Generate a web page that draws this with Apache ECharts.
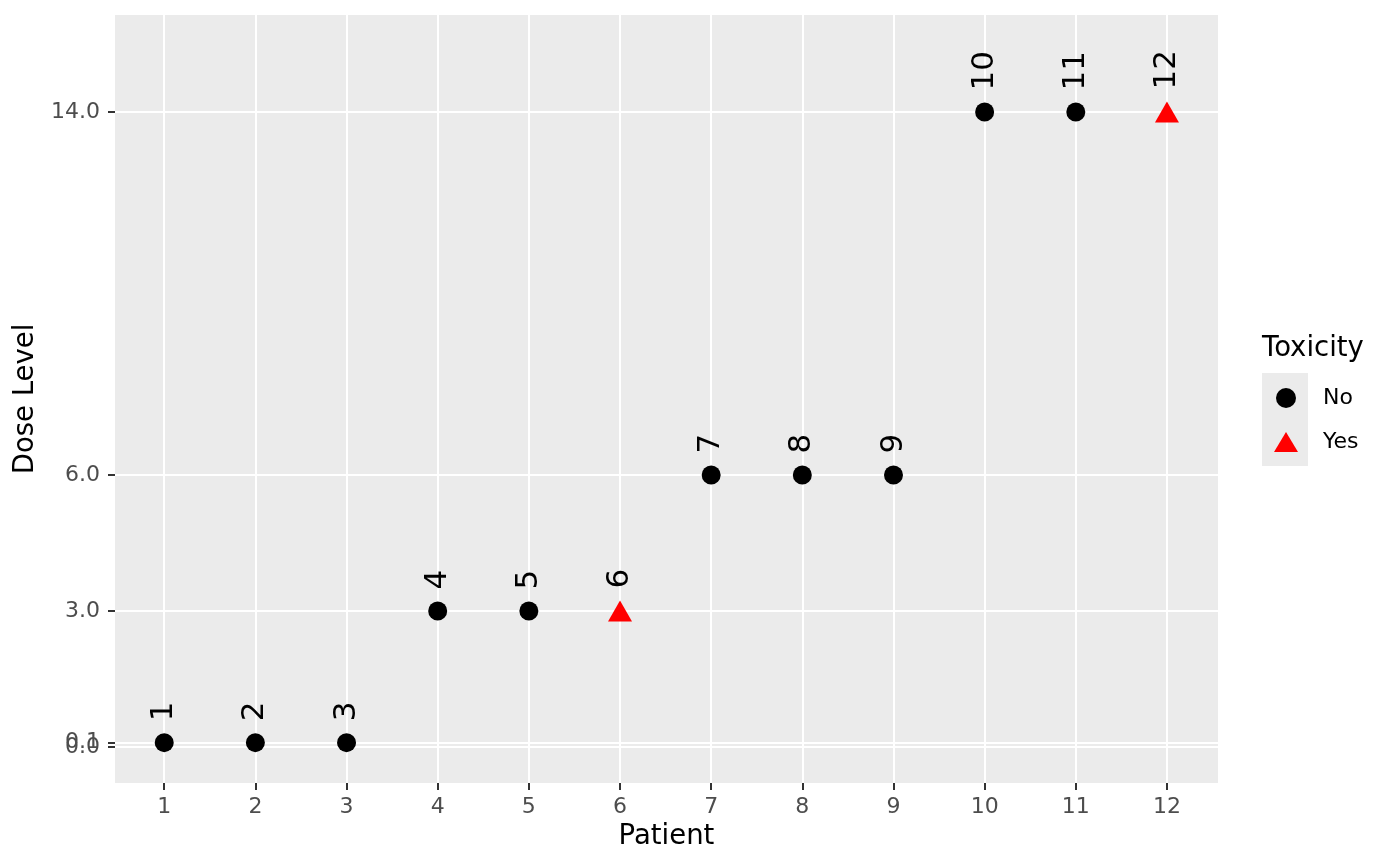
<!DOCTYPE html>
<html>
<head>
<meta charset="utf-8">
<script src="https://cdn.jsdelivr.net/npm/echarts@6/dist/echarts.min.js"></script>
<style>
  html, body { margin: 0; padding: 0; background: #fff; }
  #chart { width: 1400px; height: 866px; }
</style>
</head>
<body>
<div id="chart"></div>
<script>
  // patient number, dose level and toxicity
  var patients = [1, 2, 3, 4, 5, 6, 7, 8, 9, 10, 11, 12];
  var doses = [0.1, 0.1, 0.1, 3, 3, 3, 6, 6, 6, 14, 14, 14];
  var toxicity = ['No', 'No', 'No', 'No', 'No', 'Yes', 'No', 'No', 'No', 'No', 'No', 'Yes'];
  // 0.0 and 0.1 sit on top of each other, so 0.1 goes on an overlay axis
  var doseTicks = [0, 3, 6, 14];
  var doseTicksOverlay = [0.1];

  function pointsFor(flag) {
    var out = [];
    for (var i = 0; i < patients.length; i++) {
      if (toxicity[i] === flag) out.push([patients[i], doses[i]]);
    }
    return out;
  }

  var font = 'DejaVu Sans';
  function pointLabel(dist) {
    return {
      show: true,
      position: 'top',
      rotate: 90,
      align: 'left',
      verticalAlign: 'middle',
      distance: dist,
      fontFamily: font,
      fontSize: 31,
      color: '#000',
      opacity: 1,
      formatter: function (p) { return p.value[0]; }
    };
  }
  var tickStyle = { color: '#333', width: 2 };
  var tickText = { fontFamily: font, fontSize: 22, color: '#4d4d4d', hideOverlap: false };
  var yMin = -0.79, yMax = 16.14;

  function doseAxis(ticks, withName) {
    return {
      type: 'value',
      min: yMin, max: yMax,
      position: 'left',
      name: withName ? 'Dose Level' : '',
      nameLocation: 'middle',
      nameGap: 75,
      nameTextStyle: { fontFamily: font, fontSize: 27.5, color: '#000' },
      axisLine: { show: false, onZero: false },
      axisTick: { show: true, length: 7, customValues: ticks, lineStyle: tickStyle },
      axisLabel: Object.assign({
        customValues: ticks, margin: 15, showMinLabel: true, showMaxLabel: true,
        formatter: function (v) { return v.toFixed(1); }
      }, tickText),
      splitLine: { show: true, lineStyle: { color: '#fff', width: 2 } }
    };
  }

  var chart = echarts.init(document.getElementById('chart'));
  chart.setOption({
    animation: false,
    backgroundColor: '#fff',
    grid: { left: 115, right: 182, top: 15, bottom: 83, backgroundColor: '#ebebeb', show: true, borderWidth: 0 },
    xAxis: {
      type: 'value',
      min: 0.46, max: 12.56,
      name: 'Patient',
      nameLocation: 'middle',
      nameGap: 36,
      nameTextStyle: { fontFamily: font, fontSize: 27.5, color: '#000' },
      axisLine: { show: false, onZero: false },
      axisTick: { show: true, length: 7, customValues: patients, lineStyle: tickStyle },
      axisLabel: Object.assign({ customValues: patients, margin: 13, showMinLabel: true, showMaxLabel: true }, tickText),
      splitLine: { show: true, lineStyle: { color: '#fff', width: 2 } }
    },
    yAxis: [doseAxis(doseTicks, true), doseAxis(doseTicksOverlay, false)],
    legend: {
      orient: 'vertical',
      left: 1274,
      top: 387,
      padding: 0,
      itemWidth: 24,
      itemHeight: 20,
      itemGap: 22,
      textStyle: { fontFamily: font, fontSize: 22, color: '#000', padding: [0, 0, 0, 20] },
      data: ['No', 'Yes']
    },
    graphic: [
      { type: 'rect', left: 1262, top: 373, shape: { width: 46, height: 93 }, style: { fill: '#ebebeb' }, z: -1 },
      { type: 'text', left: 1262, top: 335, style: { text: 'Toxicity', font: '27.5px "DejaVu Sans"', fill: '#000' } }
    ],
    series: [
      {
        name: 'No', type: 'scatter', symbol: 'circle', symbolSize: 19,
        itemStyle: { color: '#000', opacity: 1 },
        label: pointLabel(12),
        data: pointsFor('No')
      },
      {
        name: 'Yes', type: 'scatter', symbol: 'triangle', symbolSize: [24, 21],
        itemStyle: { color: '#ff0000', opacity: 1 },
        label: pointLabel(12),
        data: pointsFor('Yes')
      }
    ]
  });
</script>
</body>
</html>
